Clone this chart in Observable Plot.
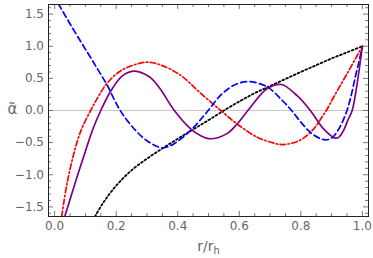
<!DOCTYPE html>
<html><head><meta charset="utf-8">
<script src="https://cdn.jsdelivr.net/npm/d3@7"></script>
<script src="https://cdn.jsdelivr.net/npm/@observablehq/plot@0.6"></script>
<style>html,body{margin:0;padding:0;background:#fff}#chart svg{display:block}</style>
</head><body><div id="chart"></div>
<script>
// Tick values
const xTicks = [0, 0.2, 0.4, 0.6, 0.8, 1.0];
const yTicks = [-1.5, -1.0, -0.5, 0, 0.5, 1.0, 1.5];
const xMinorTicks = [0.05,0.1,0.15,0.25,0.3,0.35,0.45,0.5,0.55,0.65,0.7,0.75,0.85,0.9,0.95];
const yMinorTicks = [-1.6,-1.4,-1.3,-1.2,-1.1,-0.9,-0.8,-0.7,-0.6,-0.4,-0.3,-0.2,-0.1,0.1,0.2,0.3,0.4,0.6,0.7,0.8,0.9,1.1,1.2,1.3,1.4,1.6];

// Series
const blueX = [0.012,0.066,0.107,0.14,0.17,0.213,0.263,0.306,0.35,0.387,0.447,0.485,0.499,0.544,0.588,0.631,0.69,0.735,0.77,0.80,0.831,0.86,0.88,0.90,0.918,0.935,0.95,0.962,0.977,0.99,1.0];
const blueY = [1.66,1.22,0.90,0.64,0.40,0.0,-0.31,-0.49,-0.58,-0.52,-0.285,-0.08,0.0,0.26,0.405,0.45,0.37,0.18,0.0,-0.18,-0.34,-0.43,-0.457,-0.43,-0.33,-0.18,0.0,0.2,0.52,0.78,1.0];

const redX = [0.023,0.04,0.068,0.09,0.117,0.14,0.168,0.209,0.252,0.30,0.344,0.409,0.474,0.54,0.593,0.658,0.70,0.739,0.799,0.842,0.869,0.883,0.907,0.95,1.0];
const redY = [-1.65,-1.14,-0.57,-0.26,0.0,0.20,0.41,0.6,0.70,0.752,0.71,0.55,0.27,0.0,-0.21,-0.415,-0.49,-0.53,-0.46,-0.286,-0.1,0.0,0.21,0.57,1.0];

const purpleX = [0.033,0.06,0.092,0.125,0.15,0.182,0.22,0.26,0.295,0.317,0.344,0.389,0.442,0.474,0.506,0.56,0.593,0.628,0.69,0.737,0.788,0.831,0.874,0.912,0.925,0.94,0.953,0.967,0.983,1.0];
const purpleY = [-1.65,-1.23,-0.75,-0.28,0.0,0.30,0.54,0.612,0.56,0.49,0.33,0.0,-0.285,-0.39,-0.44,-0.36,-0.21,0.0,0.34,0.405,0.23,0.0,-0.286,-0.43,-0.41,-0.3,-0.15,0.0,0.415,1.0];

const blackX = [0.131,0.16,0.2,0.25,0.3,0.35,0.4,0.45,0.5,0.55,0.6,0.65,0.7,0.75,0.8,0.85,0.9,0.95,1.0];
const blackY = [-1.65,-1.42,-1.17,-0.93,-0.75,-0.59,-0.44,-0.295,-0.15,0.0,0.14,0.27,0.38,0.49,0.60,0.705,0.81,0.905,1.0];

const toRows = (xs, ys) => xs.map((x, i) => ({x, y: ys[i]}));
const blue = toRows(blueX, blueY);
const red = toRows(redX, redY);
const purple = toRows(purpleX, purpleY);
const black = toRows(blackX, blackY);

const xDom = [-0.02, 1.02];
const yDom = [-1.65, 1.65];
const W = 373, H = 258, mL = 48, mR = 5, mT = 4, mB = 42;
const pxX = (xDom[1]-xDom[0]) / (W - mL - mR);
const pxY = (yDom[1]-yDom[0]) / (H - mT - mB);
const majL = 5, minL = 3;
const tickColor = "#555";
const labelColor = "#666";
const font = "DejaVu Sans, sans-serif";

const ticksX = (vals, len) => [
  Plot.ruleX(vals, {x: d => d, y1: yDom[0], y2: yDom[0] + len*pxY, stroke: tickColor, strokeWidth: 0.8}),
  Plot.ruleX(vals, {x: d => d, y1: yDom[1], y2: yDom[1] - len*pxY, stroke: tickColor, strokeWidth: 0.8})
];
const ticksY = (vals, len) => [
  Plot.ruleY(vals, {y: d => d, x1: xDom[0], x2: xDom[0] + len*pxX, stroke: tickColor, strokeWidth: 0.8}),
  Plot.ruleY(vals, {y: d => d, x1: xDom[1], x2: xDom[1] - len*pxX, stroke: tickColor, strokeWidth: 0.8})
];

const chart = Plot.plot({
  width: W, height: H,
  marginLeft: mL, marginRight: mR, marginTop: mT, marginBottom: mB,
  style: {fontFamily: font, background: "#fff"},
  x: {domain: xDom},
  y: {domain: yDom},
  marks: [
    Plot.ruleY([0], {stroke: "#c8c8c8", strokeWidth: 1.2}),
    Plot.line(black, {x: "x", y: "y", stroke: "#000", strokeWidth: 1.8, strokeDasharray: "1.8,2.4", curve: "catmull-rom", clip: true}),
    Plot.line(red, {x: "x", y: "y", stroke: "#ff0000", strokeWidth: 1.7, strokeDasharray: "5.5,2.5,1.5,2.5", curve: "catmull-rom", clip: true}),
    Plot.line(blue, {x: "x", y: "y", stroke: "#0000ff", strokeWidth: 1.7, strokeDasharray: "6,3.5", curve: "catmull-rom", clip: true}),
    Plot.line(purple, {x: "x", y: "y", stroke: "#800080", strokeWidth: 1.7, curve: "catmull-rom", clip: true}),
    ...ticksX(xTicks, majL), ...ticksX(xMinorTicks, minL),
    ...ticksY(yTicks, majL), ...ticksY(yMinorTicks, minL),
    Plot.frame({stroke: "#222", strokeWidth: 1}),
    Plot.axisX(xTicks, {tickSize: 0, tickPadding: 5, tickFormat: d3.format(".1f"), fontSize: 12, fill: labelColor, label: null}),
    Plot.axisY(yTicks, {tickSize: 0, tickPadding: 4.5, tickFormat: d3.format(".1f"), fontSize: 12, fill: labelColor, label: null}),
    Plot.text([0], {y: d => d, frameAnchor: "left", dx: -41, dy: -1, text: () => "α\u0303", fontSize: 15, fill: labelColor, fontFamily: font}),
    Plot.text(["r/rh"], {frameAnchor: "bottom", dy: 34, lineAnchor: "bottom", fontSize: 14, fill: labelColor, fontFamily: font})
  ]
});
document.getElementById("chart").appendChild(chart);
d3.select(chart).selectAll("text").filter(function(){ return this.textContent === "r/rh"; })
  .each(function(){
    const t = d3.select(this);
    t.text("r/r");
    t.append("tspan").attr("dy", "0.3em").attr("font-size", 10).text("h");
  });
</script>
</body></html>
